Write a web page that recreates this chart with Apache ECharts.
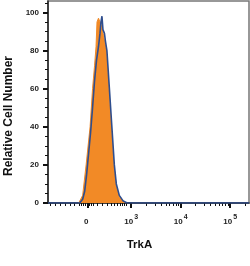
<!DOCTYPE html>
<html>
<head>
<meta charset="utf-8">
<script src="https://cdn.jsdelivr.net/npm/echarts@6/dist/echarts.min.js"></script>
<style>
  html, body { margin: 0; padding: 0; background: #fff; }
  #chart { width: 250px; height: 266px; }
</style>
</head>
<body>
<div id="chart"></div>
<script>
// x is in display units of the biexponential axis (1 unit = 1 decade)
const xMin = 1.32;
const xMax = 5.38;
const yMax = 106;

// isotype / control outline (blue)
const blueX = [1.32, 1.96, 2.02, 2.06, 2.10, 2.14, 2.18, 2.22, 2.26, 2.30, 2.34, 2.37, 2.39, 2.41, 2.43, 2.46, 2.48, 2.51, 2.56, 2.61, 2.66, 2.70, 2.76, 2.84, 2.92, 5.38];
const blueY = [0, 0, 2, 6, 15, 26, 37, 50, 64, 75, 82, 89, 95, 98, 91, 89, 85, 80, 60, 40, 20, 10, 4, 1, 0, 0];

// TrkA stained (orange fill)
const orangeX = [1.94, 2.02, 2.09, 2.17, 2.22, 2.26, 2.29, 2.31, 2.34, 2.38, 2.40, 2.44, 2.50, 2.55, 2.60, 2.65, 2.70, 2.76, 2.84, 2.90];
const orangeY = [0, 4, 20, 40, 60, 72, 82, 95, 97, 97, 93, 88, 80, 60, 40, 20, 9, 3, 1, 0];

// axis ticks
const xMajor = [2.12, 3, 4, 5];
const xMajorLabels = ["{b|0}{sup| }", "{b|10}{sup|3}", "{b|10}{sup|4}", "{b|10}{sup|5}"];
const xNearZero = [1.36, 1.46, 1.56, 1.66, 1.76, 1.86, 1.96, 2.0, 2.04, 2.08, 2.16, 2.20, 2.24,
  2.32, 2.42, 2.52, 2.60, 2.66, 2.72, 2.78, 2.82, 2.86, 2.90];
const yMajor = [0, 20, 40, 60, 80, 100];

let xMinor = xNearZero.slice();
[3, 4, 5].forEach(function (d) {
  for (let k = 2; k <= 9; k++) {
    const v = d + Math.log10(k);
    if (v < xMax) xMinor.push(+v.toFixed(3));
  }
});
let yMinor = [];
for (let v = 5; v <= 105; v += 5) if (v % 20 !== 0) yMinor.push(v);

const pairs = (xs, ys) => xs.map((x, i) => [x, ys[i]]);
const font = "Liberation Sans";

const chart = echarts.init(document.getElementById("chart"));
chart.setOption({
  animation: false,
  grid: {
    left: 48, right: 1, top: 1, bottom: 63,
    outerBoundsMode: "none",
    show: true, borderColor: "#777", borderWidth: 1.5
  },
  xAxis: [
    {
      type: "value", min: xMin, max: xMax,
      axisLine: { onZero: false, lineStyle: { color: "#222", width: 1.5 } },
      axisTick: { customValues: xMajor, length: 5, lineStyle: { color: "#111", width: 2 } },
      axisLabel: {
        customValues: xMajor, margin: 11,
        formatter: function (v) {
          const i = xMajor.indexOf(v);
          return i >= 0 ? xMajorLabels[i] : "";
        },
        rich: {
          b: { fontSize: 8, fontFamily: font, fontWeight: "bold", color: "#222" },
          sup: { fontSize: 7, fontFamily: font, fontWeight: "bold", color: "#222", padding: [0, 0, 8, 1] }
        }
      },
      splitLine: { show: false },
      name: "TrkA", nameLocation: "middle", nameGap: 36,
      nameTextStyle: { fontSize: 11.5, fontFamily: font, fontWeight: "bold", color: "#111", padding: [0, 18, 0, 0] }
    },
    {
      type: "value", min: xMin, max: xMax, position: "bottom",
      axisLine: { show: false, onZero: false },
      axisTick: { customValues: xMinor, length: 3, lineStyle: { color: "#111", width: 1 } },
      axisLabel: { show: false },
      splitLine: { show: false }
    }
  ],
  yAxis: [
    {
      type: "value", min: 0, max: yMax,
      axisLine: { show: true, lineStyle: { color: "#222", width: 1.5 } },
      axisTick: { customValues: yMajor, length: 5, lineStyle: { color: "#111", width: 2 } },
      axisLabel: { customValues: yMajor, margin: 9, fontSize: 8, fontFamily: font, fontWeight: "bold", color: "#222" },
      splitLine: { show: false },
      name: "Relative Cell Number", nameLocation: "middle", nameGap: 33,
      nameTextStyle: { fontSize: 12, fontFamily: font, fontWeight: "bold", color: "#111", padding: [0, 28, 0, 0] }
    },
    {
      type: "value", min: 0, max: yMax, position: "left",
      axisLine: { show: false },
      axisTick: { customValues: yMinor, length: 3, lineStyle: { color: "#111", width: 1 } },
      axisLabel: { show: false },
      splitLine: { show: false }
    }
  ],
  series: [
    {
      type: "line", data: pairs(orangeX, orangeY), symbol: "none",
      lineStyle: { color: "#F08A28", width: 1 },
      areaStyle: { color: "#F28A26", opacity: 1 },
      z: 2
    },
    {
      type: "line", data: pairs(blueX, blueY), symbol: "none",
      lineStyle: { color: "#2F4E8E", width: 1.6 },
      z: 3
    }
  ]
});
</script>
</body>
</html>
